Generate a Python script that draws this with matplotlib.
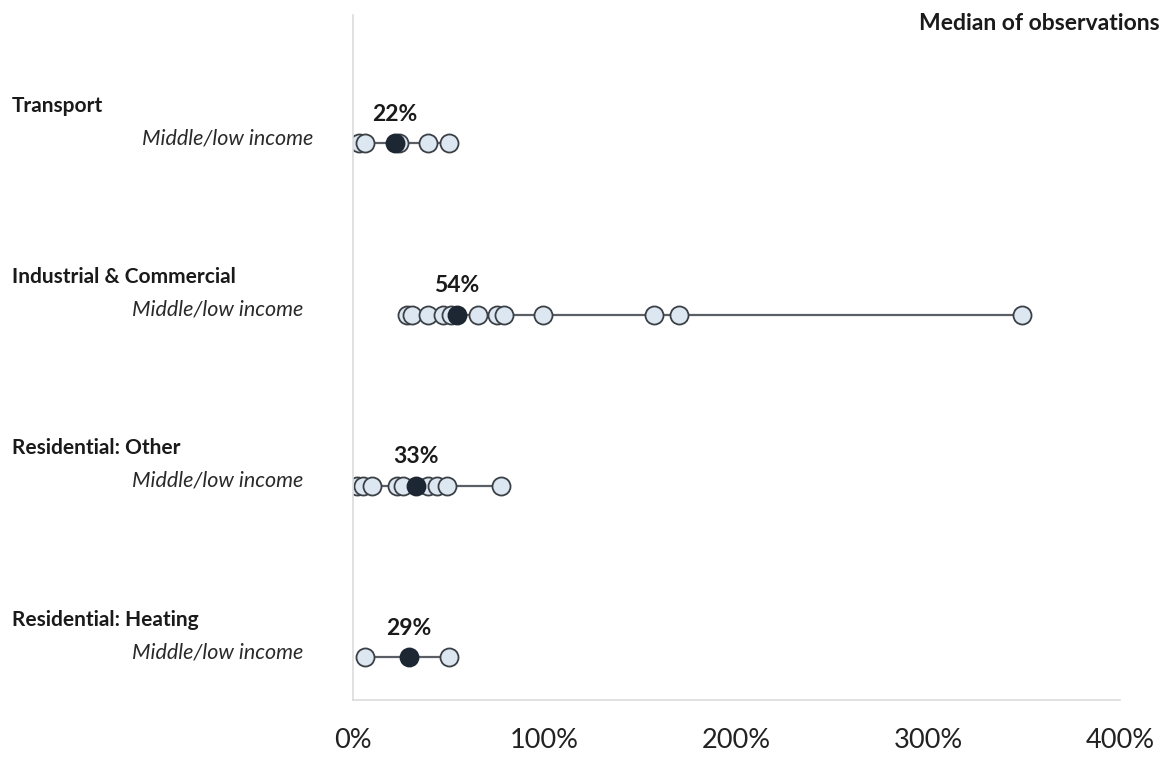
import numpy as np
import matplotlib.pyplot as plt
from matplotlib.transforms import blended_transform_factory

plt.rcParams['font.family'] = ['Lato', 'DejaVu Sans']

# === dati (valori in %) ===
sectors = ['Transport', 'Industrial & Commercial', 'Residential: Other', 'Residential: Heating']
group_label = 'Middle/low income'
transport = [3, 6, 24, 39, 50]
industrial = [28, 31, 39, 47, 51, 65, 75, 79, 99, 157, 170, 349]
res_other = [2, 5, 10, 23, 26, 39, 44, 49, 77]
res_heating = [6, 50]
medians = [22, 54, 33, 29]
xticks = [0, 100, 200, 300, 400]

observations = [transport, industrial, res_other, res_heating]

fig = plt.figure(figsize=(11.7, 7.6), dpi=100)
ax = fig.add_axes([353 / 1170, 1 - 700 / 760, (1120 - 353) / 1170, 685 / 760])

line_col = '#5a5f66'
edge_col = '#3b4046'
fill_col = '#dde7f1'
med_col = '#1d2633'

for i, (obs, med) in enumerate(zip(observations, medians)):
    vals = np.array(obs + [med])
    ax.plot([vals.min(), vals.max()], [i, i], color=line_col, lw=1.6, zorder=1)
    ax.plot(obs, [i] * len(obs), 'o', ms=13, mfc=fill_col, mec=edge_col, mew=1.3, zorder=2)
    ax.plot([med], [i], 'o', ms=13, mfc=med_col, mec=med_col, mew=1.3, zorder=3)
    ax.annotate(f'{med}%', (med, i), xytext=(0, 21), textcoords='offset points',
                ha='center', va='center', fontsize=16.5, fontweight='bold', color='#1a1a1a')

ax.set_xlim(0, 400)
ax.set_ylim(3.25, -0.75)
ax.set_xticks(xticks)
ax.set_xticklabels([f'{t}%' for t in xticks], fontsize=19.5, color='#222222')
ax.set_yticks([])
ax.tick_params(axis='x', length=0, pad=20)
for s in ['top', 'right']:
    ax.spines[s].set_visible(False)
for s in ['left', 'bottom']:
    ax.spines[s].set_color('#dcdcdc')
    ax.spines[s].set_linewidth(1.2)

# etichette a sinistra
trans = blended_transform_factory(fig.transFigure, ax.transData)
for i, name in enumerate(sectors):
    ax.text(12 / 1170, i - 0.22, name, transform=trans, ha='left', va='center',
            fontsize=15, fontweight='bold', color='#1a1a1a')
    xr = 313 if i == 0 else 303
    ax.text(xr / 1170, i - 0.03, group_label, transform=trans, ha='right', va='center',
            fontsize=15.5, style='italic', color='#2a2a2a')

fig.text(1160 / 1170, 1 - 24 / 760, 'Median of observations', ha='right', va='center',
         fontsize=16.5, fontweight='bold', color='#1a1a1a')

fig.savefig('out.png', dpi=100)
